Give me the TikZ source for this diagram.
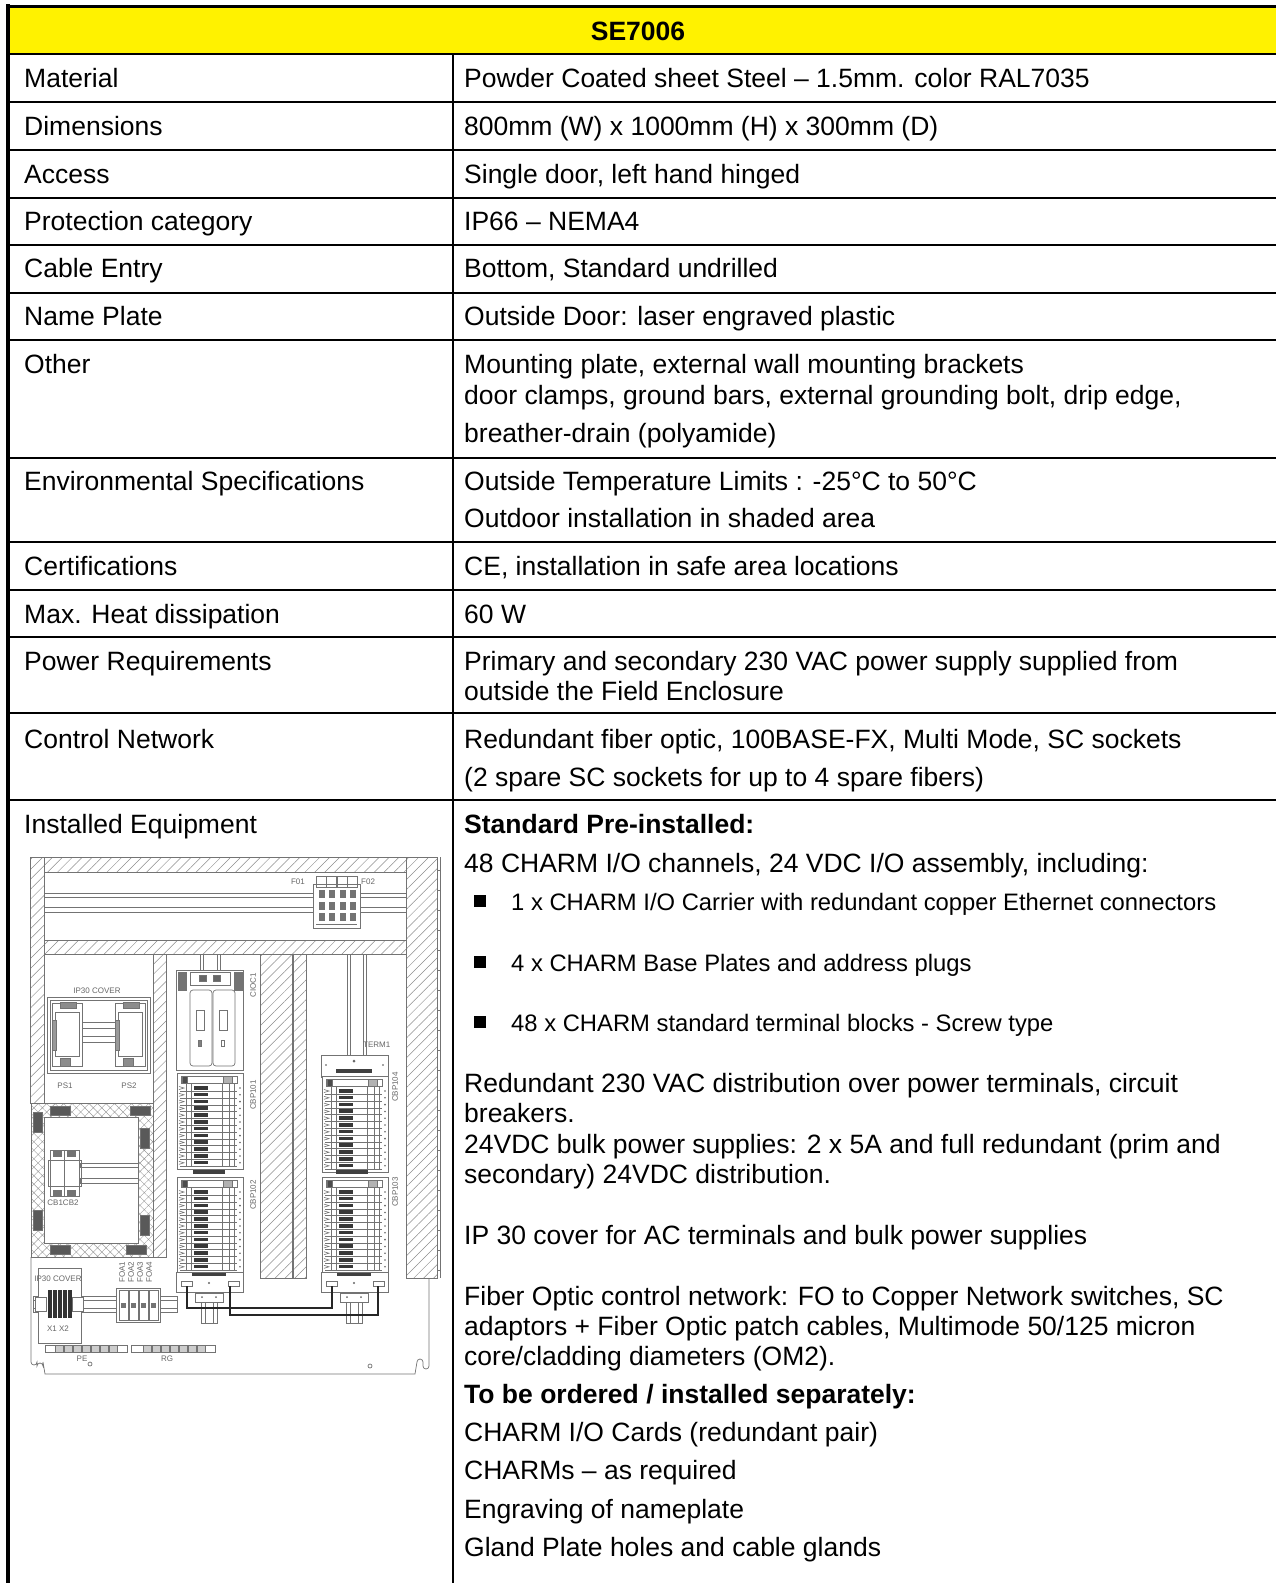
\documentclass[tikz,border=0pt]{standalone}
\usepackage{fontspec}
\setmainfont{Liberation Sans}
\usetikzlibrary{patterns.meta}
\tikzset{
  baseplate/.pic={
    \draw[dr,fill=white] (0,0) rectangle (66,96);
    \draw[dr] (4,3) rectangle (60,10);
    \draw[dr,fill=black!70] (5,3) rectangle (10,10);
    \draw[dr,fill=black!30] (46,3) rectangle (55,10);
    \foreach \xx in {9,14,45,52,57} {\draw[dr,line width=0.4pt] (\xx,10) -- (\xx,94);}
    \foreach \i in {0,...,11} {
      \pgfmathsetmacro\yy{13+6.8*\i}
      \fill[black!78] (17,\yy) rectangle (31,\yy+3.6);
      \draw[dr,line width=0.4pt] (3,\yy+5.2) -- (60,\yy+5.2);
      \draw[dr,line width=0.6pt] (2,\yy+0.5) -- (7,\yy+2) -- (2,\yy+3.5);
      \fill[black!60] (63,\yy+2) circle (0.9);
    }
  }
}
\begin{document}
\begin{tikzpicture}[x=1pt,y=-1pt,
  tx/.style={anchor=base west, inner sep=0pt, font=\fontsize{26.5}{30}\selectfont},
  txb/.style={anchor=base west, inner sep=0pt, font=\fontsize{26.5}{30}\selectfont\bfseries},
  sm/.style={anchor=base west, inner sep=0pt, font=\fontsize{23.8}{28}\selectfont},
  bul/.style={fill=black, inner sep=0pt, minimum size=12pt},
  rule/.style={line width=2pt},
  dr/.style={draw=black!55, line width=0.7pt},
  dk/.style={draw=black!85, line width=1.2pt},
  hatch/.style={pattern={Lines[angle=45,distance=7pt,line width=0.5pt]}, pattern color=black!45},
  xhatch/.style={pattern={Hatch[angle=45,distance=6pt,line width=0.4pt]}, pattern color=black!40},
  dl/.style={inner sep=0pt, text=black!60, font=\fontsize{8}{8}\selectfont},
]
\useasboundingbox (0,0) rectangle (1276,1583);
\clip (0,0) rectangle (1276,1583);

% ---------------- table ----------------
\fill[yellow] (8,6) rectangle (1276,54);
\draw[line width=3pt] (6,6) -- (1276,6);
\draw[line width=4pt] (8,4) -- (8,1583);
\draw[rule] (453,54) -- (453,1583);
\foreach \yy in {54,102,150,198,245,293,340,458,542,590,637,713,800} {\draw[rule] (8,\yy) -- (1276,\yy);}

\node[txb, anchor=base] (hdr) at (638,40) {SE7006};

\node[tx] (l1) at (24,87) {Material};
\node[tx] (r1) at (464,87) {Powder Coated sheet Steel – 1.5mm. color RAL7035};
\node[tx] (l2) at (24,135) {Dimensions};
\node[tx] (r2) at (464,135) {800mm (W) x 1000mm (H) x 300mm (D)};
\node[tx] (l3) at (24,183) {Access};
\node[tx] (r3) at (464,183) {Single door, left hand hinged};
\node[tx] (l4) at (24,230) {Protection category};
\node[tx] (r4) at (464,230) {IP66 – NEMA4};
\node[tx] (l5) at (24,277) {Cable Entry};
\node[tx] (r5) at (464,277) {Bottom, Standard undrilled};
\node[tx] (l6) at (24,325) {Name Plate};
\node[tx] (r6) at (464,325) {Outside Door: laser engraved plastic};
\node[tx] (l7) at (24,373) {Other};
\node[tx] (r7a) at (464,373) {Mounting plate, external wall mounting brackets};
\node[tx] (r7b) at (464,404) {door clamps, ground bars, external grounding bolt, drip edge,};
\node[tx] (r7c) at (464,442) {breather-drain (polyamide)};
\node[tx] (l8) at (24,490) {Environmental Specifications};
\node[tx] (r8a) at (464,490) {Outside Temperature Limits : -25°C to 50°C};
\node[tx] (r8b) at (464,527) {Outdoor installation in shaded area};
\node[tx] (l9) at (24,575) {Certifications};
\node[tx] (r9) at (464,575) {CE, installation in safe area locations};
\node[tx] (l10) at (24,623) {Max. Heat dissipation};
\node[tx] (r10) at (464,623) {60 W};
\node[tx] (l11) at (24,670) {Power Requirements};
\node[tx] (r11a) at (464,670) {Primary and secondary 230 VAC power supply supplied from};
\node[tx] (r11b) at (464,700) {outside the Field Enclosure};
\node[tx] (l12) at (24,748) {Control Network};
\node[tx] (r12a) at (464,748) {Redundant fiber optic, 100BASE-FX, Multi Mode, SC sockets};
\node[tx] (r12b) at (464,786) {(2 spare SC sockets for up to 4 spare fibers)};
\node[tx] (l13) at (24,833) {Installed Equipment};
\node[txb] (r13a) at (464,833) {Standard Pre-installed:};
\node[tx] (r13b) at (464,872) {48 CHARM I/O channels, 24 VDC I/O assembly, including:};
\node[bul] (b1) at (480,901) {};
\node[sm] (r13c) at (511,910) {1 x CHARM I/O Carrier with redundant copper Ethernet connectors};
\node[bul] (b2) at (480,962) {};
\node[sm] (r13d) at (511,971) {4 x CHARM Base Plates and address plugs};
\node[bul] (b3) at (480,1022) {};
\node[sm] (r13e) at (511,1031) {48 x CHARM standard terminal blocks - Screw type};
\node[tx] (r13f) at (464,1092) {Redundant 230 VAC distribution over power terminals, circuit};
\node[tx] (r13g) at (464,1122) {breakers.};
\node[tx] (r13h) at (464,1153) {24VDC bulk power supplies: 2 x 5A and full redundant (prim and};
\node[tx] (r13i) at (464,1183) {secondary) 24VDC distribution.};
\node[tx] (r13j) at (464,1244) {IP 30 cover for AC terminals and bulk power supplies};
\node[tx] (r13k) at (464,1305) {Fiber Optic control network: FO to Copper Network switches, SC};
\node[tx] (r13l) at (464,1335) {adaptors + Fiber Optic patch cables, Multimode 50/125 micron};
\node[tx] (r13m) at (464,1365) {core/cladding diameters (OM2).};
\node[txb] (r13n) at (464,1403) {To be ordered / installed separately:};
\node[tx] (r13o) at (464,1441) {CHARM I/O Cards (redundant pair)};
\node[tx] (r13p) at (464,1479) {CHARMs – as required};
\node[tx] (r13q) at (464,1518) {Engraving of nameplate};
\node[tx] (r13r) at (464,1556) {Gland Plate holes and cable glands};

% ---------------- enclosure drawing ----------------
\filldraw[dr,hatch] (30,857) rectangle (44,1103);
\filldraw[dr,hatch] (44,857) rectangle (406,872);
\filldraw[dr,hatch] (406,857) rectangle (437,1278);
\draw[dr] (440,857) -- (440,1278);
\foreach \yy in {870,890,...,1270} {\draw[dr,line width=0.5pt] (437,\yy) -- (440,\yy);}
\draw[dr] (44,893) rectangle (406,912);
\draw[dr] (44,897) -- (406,897);
\draw[dr] (44,907) -- (406,907);
\filldraw[dr,hatch] (44,940) rectangle (406,954);
\filldraw[dr,hatch] (153,954) rectangle (166,1257);
\filldraw[dr,hatch] (260,954) rectangle (292,1278);
\filldraw[dr,hatch] (293,954) rectangle (306,1278);

% F01 / F02
\draw[dr,fill=white] (313,884) rectangle (360,928);
\foreach \xx in {316,326,337,347} {
  \draw[dr] (\xx,876) rectangle (\xx+10,887);
  \draw[dr,fill=black!55] (\xx+3,890) rectangle (\xx+8,897);
  \draw[dr,fill=black!55] (\xx+3,902) rectangle (\xx+8,909);
  \draw[dr,fill=black!55] (\xx+3,913) rectangle (\xx+8,920);
}
\draw[dr] (316,924) -- (357,924);
\node[dl, anchor=east] (f01) at (305,882) {F01};
\node[dl, anchor=west] (f02) at (361,882) {F02};

% IP30 cover with PS1/PS2
\draw[dr] (47,997) rectangle (150,1073);
\draw[dr] (50,1000) rectangle (147,1070);
\foreach \xx in {52,115} {
  \draw[dr,fill=white] (\xx,1003) rectangle (\xx+30,1066);
  \draw[dr,fill=black!45] (\xx+8,1002) rectangle (\xx+24,1008);
  \draw[dr] (\xx+3,1012) rectangle (\xx+27,1056);
  \draw[dr,fill=black!45] (\xx+8,1058) rectangle (\xx+18,1066);
  \draw[dr,fill=black!40] (\xx,1020) rectangle (\xx+4,1050);
}
\draw[dr] (82,1022) rectangle (115,1028);
\draw[dr] (82,1036) rectangle (115,1042);
\node[dl] (ip1) at (97,991) {IP30 COVER};
\node[dl] (ps1) at (65,1086) {PS1};
\node[dl] (ps2) at (129,1086) {PS2};

% cross-hatched AC compartment
\filldraw[dr,xhatch] (31,1103) rectangle (153,1257);
\filldraw[dr,fill=white] (44,1117) rectangle (138,1243);
\foreach \p in {{(50,1106)},{(130,1106)},{(50,1245)},{(126,1245)}} {
  \draw[dr,fill=black!65] \p rectangle ++(20,9);
}
\foreach \p in {{(33,1112)},{(33,1210)},{(140,1128)},{(140,1215)}} {
  \draw[dr,fill=black!65] \p rectangle ++(9,20);
}
\draw[dr] (80,1163) rectangle (138,1167);
\draw[dr] (80,1178) rectangle (138,1183);
\draw[dr,fill=white] (50,1150) rectangle (79,1196);
\draw[dr] (48,1160) rectangle (81,1186);
\draw[dr] (64,1150) -- (64,1196);
\draw[dr,fill=black!55] (53,1151) rectangle (61,1156);
\draw[dr,fill=black!55] (67,1151) rectangle (75,1156);
\draw[dr,fill=black!55] (53,1190) rectangle (61,1195);
\draw[dr,fill=black!55] (67,1190) rectangle (75,1195);
\node[dl] (cb) at (63,1203) {CB1CB2};

% CIOC1 carrier (left)
\draw[dr] (200,954) -- (200,970);
\draw[dr] (203,954) -- (203,970);
\draw[dr] (217,954) -- (217,970);
\draw[dr] (220,954) -- (220,970);
\draw[dr,fill=white] (176,970) rectangle (243,1070);
\draw[dr,fill=black!55] (178,972) rectangle (186,990);
\draw[dr,fill=black!55] (234,972) rectangle (242,990);
\draw[dr] (190,972) rectangle (230,985);
\draw[dr,fill=black!60] (199,975) rectangle (206,981);
\draw[dr,fill=black!60] (213,975) rectangle (220,981);
\draw[dr,rounded corners=3pt] (190,990) rectangle (212,1066);
\draw[dr,rounded corners=3pt] (213,990) rectangle (235,1066);
\draw[dr] (196,1010) rectangle (204,1030);
\draw[dr] (219,1010) rectangle (227,1030);
\draw[dr,fill=black!50] (198,1040) rectangle (201,1046);
\draw[dr] (221,1040) rectangle (224,1046);
\node[dl, rotate=90] (cioc) at (253,985) {CIOC1};

\pic at (177,1073) {baseplate};
\fill[black!75] (193,1170) rectangle (225,1174);
\pic at (177,1177) {baseplate};
\draw[dr,fill=white] (176,1272) rectangle (243,1292);
\fill[black!75] (192,1273) rectangle (226,1276);
\draw[dr] (181,1281) rectangle (192,1286);
\draw[dr] (228,1281) rectangle (239,1286);
\fill[black!60] (209,1283) circle (1.2);
\node[dl, rotate=90] (cbp101) at (253,1095) {CBP101};
\node[dl, rotate=90] (cbp102) at (253,1195) {CBP102};

% TERM1 carrier (right)
\draw[dr] (347,954) -- (347,1055);
\draw[dr] (350,954) -- (350,1055);
\draw[dr] (363,954) -- (363,1055);
\draw[dr] (366,954) -- (366,1055);
\node[dl, anchor=west] (term) at (363,1045) {TERM1};
\draw[dr,fill=white] (321,1055) rectangle (388,1077);
\fill[black!60] (354,1061) circle (1.5);
\fill[black!70] (326,1065) circle (0.9);
\fill[black!70] (383,1065) circle (0.9);
\fill[black!75] (336,1069) rectangle (372,1073);
\pic at (322,1076) {baseplate};
\fill[black!75] (336,1170) rectangle (368,1174);
\pic at (322,1177) {baseplate};
\draw[dr,fill=white] (321,1272) rectangle (388,1292);
\fill[black!75] (337,1273) rectangle (371,1276);
\draw[dr] (326,1281) rectangle (337,1286);
\draw[dr] (373,1281) rectangle (384,1286);
\fill[black!60] (354,1283) circle (1.2);
\node[dl, rotate=90] (cbp104) at (395,1087) {CBP104};
\node[dl, rotate=90] (cbp103) at (395,1192) {CBP103};

% network switches and cables
\foreach \xx in {195,340} {
  \draw[dr] (\xx,1293) rectangle (\xx+28,1302);
  \fill[black!60] (\xx+7,1297) circle (1);
  \fill[black!60] (\xx+21,1297) circle (1);
  \draw[dr] (\xx+6,1302) -- (\xx+6,1323) -- (\xx+22,1323) -- (\xx+22,1302);
  \draw[dr] (\xx+10,1302) -- (\xx+10,1323);
  \draw[dr] (\xx+18,1302) -- (\xx+18,1323);
}
\draw[dk] (187,1286) -- (187,1308) -- (332,1308) -- (332,1286);
\draw[dk] (230,1286) -- (230,1315) -- (378,1315) -- (378,1286);

% bottom area: IP30 cover, terminals, FOA
\draw[dr] (33,1296) rectangle (177,1312);
\draw[dr] (33,1300) -- (177,1300);
\draw[dr] (33,1308) -- (177,1308);
\draw[dr,fill=white] (38,1268) rectangle (81,1343);
\node[dl] (ip2) at (58,1279) {IP30 COVER};
\draw[dr,fill=white] (35,1297) rectangle (46,1311);
\draw[dr,fill=white] (72,1297) rectangle (83,1311);
\foreach \xx in {48,53,58,63,68} {
  \fill[black!80] (\xx,1290) rectangle (\xx+3.5,1318);
}
\node[dl] (x12) at (58,1329) {X1\ X2};
\draw[dr,fill=white] (116,1288) rectangle (160,1322);
\foreach \xx in {119,129,139,149} {
  \draw[dr] (\xx,1290) rectangle (\xx+9,1320);
  \fill[black!55] (\xx+2,1303) rectangle (\xx+7,1308);
}
\node[dl, rotate=90] (foa1) at (122,1272) {FOA1};
\node[dl, rotate=90] (foa2) at (131,1272) {FOA2};
\node[dl, rotate=90] (foa3) at (140,1272) {FOA3};
\node[dl, rotate=90] (foa4) at (149,1272) {FOA4};

% earth bars
\draw[dr] (45,1345) rectangle (127,1352);
\foreach \xx in {55,64,...,110} {\draw[dr,fill=black!20] (\xx,1345) rectangle (\xx+8,1352);}
\draw[dr] (131,1345) rectangle (215,1352);
\foreach \xx in {143,152,...,198} {\draw[dr,fill=black!20] (\xx,1345) rectangle (\xx+8,1352);}
\node[dl] (pe) at (82,1359) {PE};
\node[dl] (rg) at (167,1359) {RG};

% enclosure bottom outline
\draw[dr] (31,1257) -- (31,1362) arc (180:0:3) -- (37,1366) arc (180:360:3) -- (43,1362) -- (45,1374) -- (415,1374) -- (417,1362) arc (180:360:3) -- (423,1366) arc (180:0:3) -- (429,1362) -- (429,1278);
\draw[dr] (90,1364) circle (2);
\draw[dr] (370,1366) circle (2);
\end{tikzpicture}
\end{document}
